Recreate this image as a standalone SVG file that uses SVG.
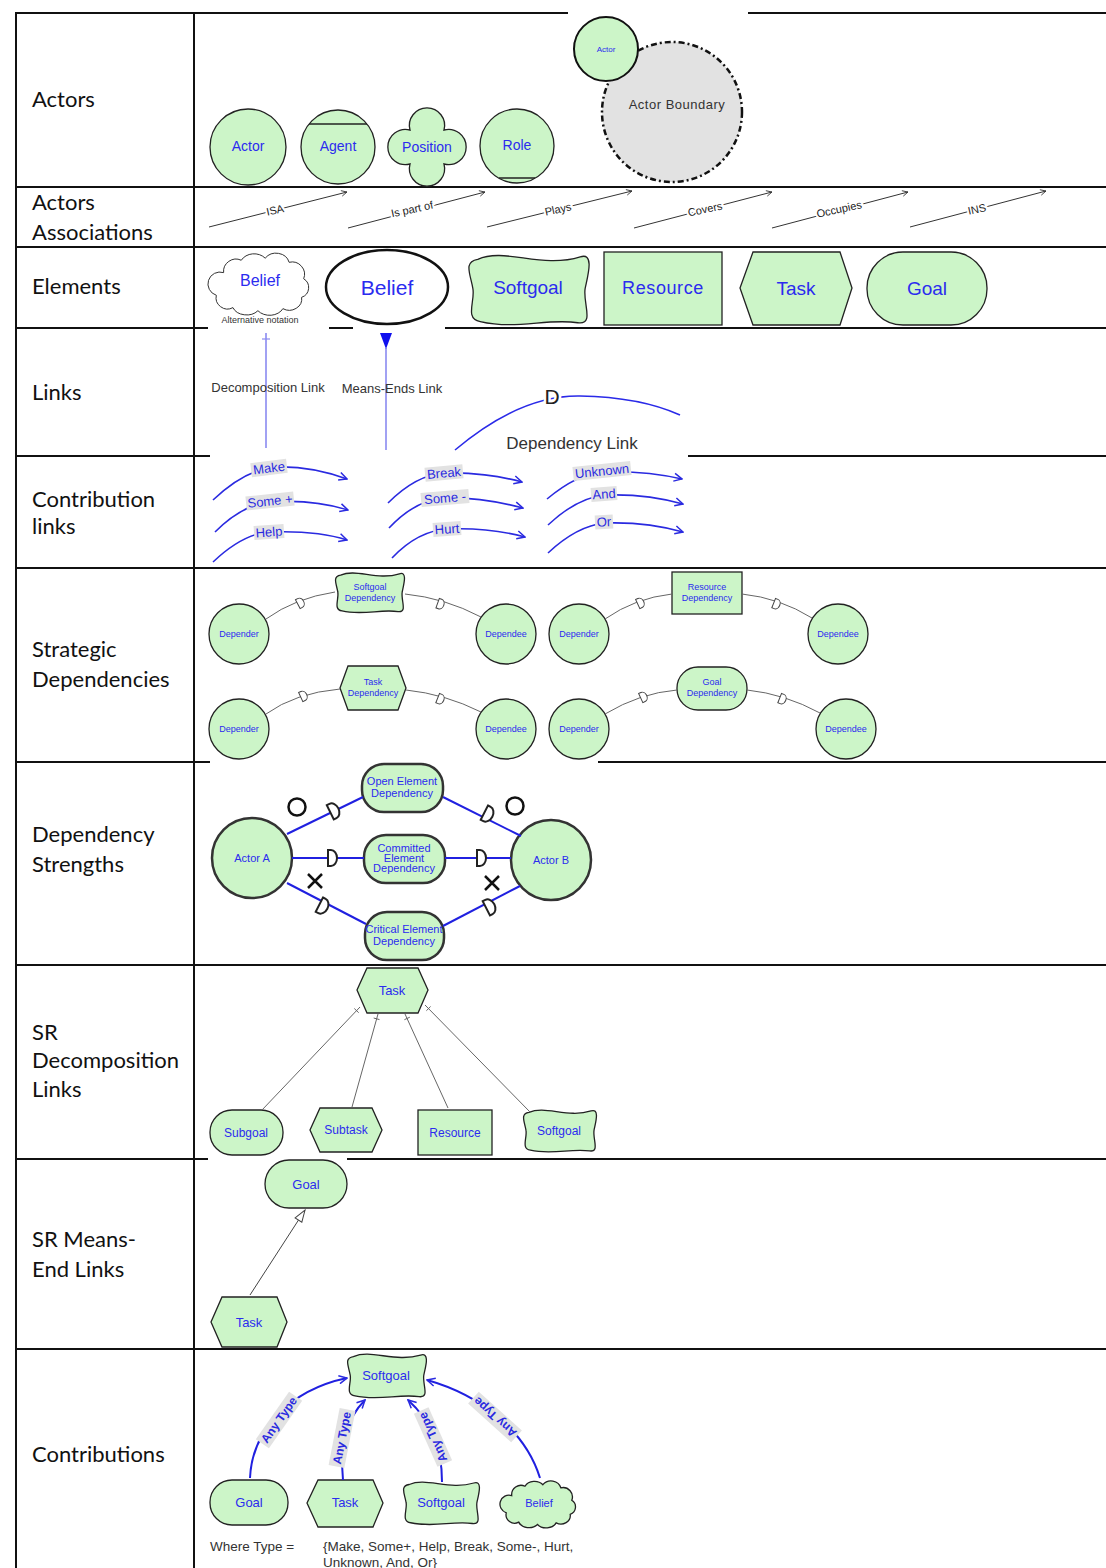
<svg xmlns="http://www.w3.org/2000/svg" xmlns:xlink="http://www.w3.org/1999/xlink" width="1106" height="1568" viewBox="0 0 1106 1568">
<style>
.grid{stroke:#111;stroke-width:2;fill:none}
.lbl{font-family:Lato,"Open Sans","Liberation Sans",sans-serif;font-size:22px;fill:#111}
.t{font-family:"Liberation Sans",Arial,sans-serif;fill:#2b2bef;text-anchor:middle;dominant-baseline:central}
.g{fill:#ccf5c8;stroke:#222;stroke-width:1.3}
.gt{fill:#ccf5c8;stroke:#333;stroke-width:2.5}
.dk{font-family:"Liberation Sans",Arial,sans-serif;fill:#333}
.assoc{stroke:#333;stroke-width:1;fill:none}
.at{font-family:"Liberation Sans",Arial,sans-serif;font-size:11px;fill:#222;text-anchor:middle;dominant-baseline:central;stroke:#fff;stroke-width:4;paint-order:stroke}
.bl{stroke:#2a2ae0;stroke-width:1.6;fill:none}
.bl2{stroke:#2020e0;stroke-width:2;fill:none}
.cl{font-family:"Liberation Sans",Arial,sans-serif;font-size:13px;fill:#2a2ae0;text-anchor:middle;dominant-baseline:central}
.clb{fill:#e2e2e2}
.at2{font-family:"Liberation Sans",Arial,sans-serif;font-size:12px;font-weight:bold;fill:#2a2ae0;text-anchor:middle;dominant-baseline:central}
.gl{stroke:#666;stroke-width:1;fill:none}
.dm{fill:#fff;stroke:#444;stroke-width:1}
.dm2{fill:#fff;stroke:#222;stroke-width:2}
</style>
<defs>
<path id="sgU" vector-effect="non-scaling-stroke" d="M8,6 C30,-4 60,14 92,4 C104,0 98,20 96,30 C94,42 104,60 90,58 C65,54 40,64 10,57 C-3,55 6,40 4,30 C2,18 -4,8 8,6 Z"/>
<path id="cloudU" vector-effect="non-scaling-stroke" d="M15,20 A12,12 0 0 1 32,8 A14,12 0 0 1 55,6 A13,12 0 0 1 78,10 A12,12 0 0 1 92,26 A10,10 0 0 1 90,44 A12,11 0 0 1 72,55 A14,11 0 0 1 48,57 A14,11 0 0 1 24,54 A11,11 0 0 1 8,42 A10,10 0 0 1 15,20 Z"/>
<path id="dS" d="M-2.5,-5 L0,-5 A4,5 0 0 1 0,5 L-2.5,5 Z"/>
<path id="dL" d="M-3,-8 L0,-8 A6,8 0 0 1 0,8 L-3,8 Z"/>
<marker id="arG" viewBox="0 0 10 10" refX="9" refY="5" markerWidth="7" markerHeight="7" orient="auto" markerUnits="userSpaceOnUse"><path d="M1,1 L9,5 L1,9" fill="none" stroke="#333" stroke-width="1.2"/></marker>
<marker id="arB" viewBox="0 0 10 10" refX="9" refY="5" markerWidth="10" markerHeight="10" orient="auto" markerUnits="userSpaceOnUse"><path d="M1,1 L9,5 L1,9" fill="none" stroke="#2a2ae0" stroke-width="1.5"/></marker>
<marker id="triW" viewBox="0 0 14 10" refX="13" refY="5" markerWidth="14" markerHeight="10" orient="auto" markerUnits="userSpaceOnUse"><path d="M1,1 L13,5 L1,9 Z" fill="#fff" stroke="#444" stroke-width="1"/></marker>
<marker id="triB" viewBox="0 0 16 12" refX="15" refY="6" markerWidth="16" markerHeight="12" orient="auto" markerUnits="userSpaceOnUse"><path d="M0,0 L16,6 L0,12 Z" fill="#1010ee"/></marker>
</defs>
<rect width="1106" height="1568" fill="#fff"/>

<g id="table">
<line class="grid" x1="16" y1="12" x2="16" y2="1568"/>
<line class="grid" x1="194" y1="12" x2="194" y2="1568"/>
<line class="grid" x1="15" y1="13" x2="568" y2="13"/>
<line class="grid" x1="748" y1="13" x2="1106" y2="13"/>
<line class="grid" x1="15" y1="187" x2="1106" y2="187"/>
<line class="grid" x1="15" y1="247" x2="1106" y2="247"/>
<line class="grid" x1="15" y1="328" x2="208" y2="328"/>
<line class="grid" x1="329" y1="328" x2="353" y2="328"/>
<line class="grid" x1="445" y1="328" x2="1106" y2="328"/>
<line class="grid" x1="15" y1="456" x2="210" y2="456"/>
<line class="grid" x1="688" y1="456" x2="1106" y2="456"/>
<line class="grid" x1="15" y1="568" x2="1106" y2="568"/>
<line class="grid" x1="15" y1="762" x2="210" y2="762"/>
<line class="grid" x1="598" y1="762" x2="1106" y2="762"/>
<line class="grid" x1="15" y1="965" x2="1106" y2="965"/>
<line class="grid" x1="15" y1="1159" x2="208" y2="1159"/>
<line class="grid" x1="347" y1="1159" x2="1106" y2="1159"/>
<line class="grid" x1="15" y1="1349" x2="1106" y2="1349"/>
</g>

<g id="row-labels">
<text class="lbl" x="32" y="107">Actors</text>
<text class="lbl" x="32" y="210">Actors</text>
<text class="lbl" x="32" y="240">Associations</text>
<text class="lbl" x="32" y="294">Elements</text>
<text class="lbl" x="32" y="400">Links</text>
<text class="lbl" x="32" y="507">Contribution</text>
<text class="lbl" x="32" y="534">links</text>
<text class="lbl" x="32" y="657">Strategic</text>
<text class="lbl" x="32" y="687">Dependencies</text>
<text class="lbl" x="32" y="842">Dependency</text>
<text class="lbl" x="32" y="872">Strengths</text>
<text class="lbl" x="32" y="1040">SR</text>
<text class="lbl" x="32" y="1068">Decomposition</text>
<text class="lbl" x="32" y="1097">Links</text>
<text class="lbl" x="32" y="1247">SR Means-</text>
<text class="lbl" x="32" y="1277">End Links</text>
<text class="lbl" x="32" y="1462">Contributions</text>
</g>

<!-- Actors row -->
<g id="n-actor"><circle class="g" cx="248" cy="147" r="38"/><text class="t" x="248" y="146" font-size="14">Actor</text></g>
<g id="n-agent"><circle class="g" cx="338" cy="147" r="37"/><line x1="309" y1="124" x2="367" y2="124" stroke="#222" stroke-width="1.3"/><text class="t" x="338" y="146" font-size="14">Agent</text></g>
<g id="n-position"><path class="g" d="M410,130 A17.6,17.6 0 1 1 444,130 A17.6,17.6 0 1 1 444,164 A17.6,17.6 0 1 1 410,164 A17.6,17.6 0 1 1 410,130 Z"/><text class="t" x="427" y="147" font-size="14">Position</text></g>
<g id="n-role"><circle class="g" cx="517" cy="146" r="37"/><path d="M499,178 L535,178" stroke="#222" stroke-width="1.3"/><text class="t" x="517" y="145" font-size="14">Role</text></g>
<g id="n-boundary"><circle cx="672" cy="112" r="70" fill="#e2e2e2" stroke="#111" stroke-width="2.5" stroke-dasharray="6 3 2 3"/><text class="dk" x="677" y="109" font-size="13" text-anchor="middle" letter-spacing="0.5" fill="#444">Actor Boundary</text></g>
<g id="n-actor-small"><circle cx="606" cy="49" r="32" fill="#ccf5c8" stroke="#111" stroke-width="2"/><text class="t" x="606" y="49" font-size="8">Actor</text></g>

<!-- Elements row -->
<g id="n-belief-cloud"><use href="#cloudU" transform="translate(208,252) scale(1.04,1.03)" fill="#fff" stroke="#333" stroke-width="1"/><text class="t" x="260" y="280" font-size="16">Belief</text><text class="dk" x="260" y="323" font-size="9" text-anchor="middle" fill="#222">Alternative notation</text></g>
<g id="n-belief"><ellipse cx="387" cy="287" rx="61" ry="37" fill="#fff" stroke="#111" stroke-width="2.5"/><text class="t" x="387" y="287" font-size="21">Belief</text></g>
<g id="n-softgoal"><use href="#sgU" transform="translate(468,252) scale(1.22,1.22)" class="g"/><text class="t" x="528" y="287" font-size="19">Softgoal</text></g>
<g id="n-resource"><rect class="g" x="604" y="252" width="118" height="73"/><text class="t" x="663" y="288" font-size="18" letter-spacing="0.6">Resource</text></g>
<g id="n-task"><polygon class="g" points="753,252 840,252 852,288 840,325 753,325 740,288"/><text class="t" x="796" y="288" font-size="19">Task</text></g>
<g id="n-goal"><rect class="g" x="867" y="252" width="120" height="73" rx="36" ry="36"/><text class="t" x="927" y="288" font-size="19">Goal</text></g>

<!-- Strategic dependencies -->
<g id="sd-depender1"><circle class="g" cx="239" cy="634" r="30"/><text class="t" x="239" y="634" font-size="9">Depender</text></g>
<g id="sd-softgoal"><use href="#sgU" transform="translate(335,571) scale(0.7,0.7)" class="g"/><text class="t" x="370" y="587" font-size="9">Softgoal</text><text class="t" x="370" y="598" font-size="9">Dependency</text></g>
<g id="sd-dependee1"><circle class="g" cx="506" cy="634" r="30"/><text class="t" x="506" y="634" font-size="9">Dependee</text></g>
<g id="sd-depender2"><circle class="g" cx="579" cy="634" r="30"/><text class="t" x="579" y="634" font-size="9">Depender</text></g>
<g id="sd-resource"><rect class="g" x="672" y="572" width="70" height="42"/><text class="t" x="707" y="587" font-size="9">Resource</text><text class="t" x="707" y="598" font-size="9">Dependency</text></g>
<g id="sd-dependee2"><circle class="g" cx="838" cy="634" r="30"/><text class="t" x="838" y="634" font-size="9">Dependee</text></g>
<g id="sd-depender3"><circle class="g" cx="239" cy="729" r="30"/><text class="t" x="239" y="729" font-size="9">Depender</text></g>
<g id="sd-task"><polygon class="g" points="348,666 398,666 406,688 398,710 348,710 340,688"/><text class="t" x="373" y="682" font-size="9">Task</text><text class="t" x="373" y="693" font-size="9">Dependency</text></g>
<g id="sd-dependee3"><circle class="g" cx="506" cy="729" r="30"/><text class="t" x="506" y="729" font-size="9">Dependee</text></g>
<g id="sd-depender4"><circle class="g" cx="579" cy="729" r="30"/><text class="t" x="579" y="729" font-size="9">Depender</text></g>
<g id="sd-goal"><rect class="g" x="677" y="667" width="70" height="43" rx="21" ry="21"/><text class="t" x="712" y="682" font-size="9">Goal</text><text class="t" x="712" y="693" font-size="9">Dependency</text></g>
<g id="sd-dependee4"><circle class="g" cx="846" cy="729" r="30"/><text class="t" x="846" y="729" font-size="9">Dependee</text></g>

<!-- Dependency strengths -->
<g id="ds-actorA"><circle cx="252" cy="858" r="40" class="gt"/><text class="t" x="252" y="858" font-size="11">Actor A</text></g>
<g id="ds-actorB"><circle cx="551" cy="860" r="40" class="gt"/><text class="t" x="551" y="860" font-size="11">Actor B</text></g>
<g id="ds-open"><rect class="gt" x="362" y="764" width="81" height="48" rx="22" ry="22"/><text class="t" x="402" y="781" font-size="11">Open Element</text><text class="t" x="402" y="793" font-size="11">Dependency</text></g>
<g id="ds-committed"><rect class="gt" x="364" y="835" width="81" height="48" rx="22" ry="22"/><text class="t" x="404" y="848" font-size="11">Committed</text><text class="t" x="404" y="858" font-size="11">Element</text><text class="t" x="404" y="868" font-size="11">Dependency</text></g>
<g id="ds-critical"><rect class="gt" x="365" y="912" width="79" height="48" rx="22" ry="22"/><text class="t" x="404" y="929" font-size="11">Critical Element</text><text class="t" x="404" y="941" font-size="11">Dependency</text></g>

<!-- SR decomposition -->
<g id="dec-task"><polygon class="g" points="367,968 418,968 428,990 418,1013 367,1013 357,990"/><text class="t" x="392" y="990" font-size="13">Task</text></g>
<g id="dec-subgoal"><rect class="g" x="210" y="1110" width="73" height="45" rx="22" ry="22"/><text class="t" x="246" y="1133" font-size="12">Subgoal</text></g>
<g id="dec-subtask"><polygon class="g" points="320,1108 372,1108 382,1130 372,1152 320,1152 310,1130"/><text class="t" x="346" y="1130" font-size="12">Subtask</text></g>
<g id="dec-resource"><rect class="g" x="418" y="1110" width="74" height="45"/><text class="t" x="455" y="1133" font-size="12">Resource</text></g>
<g id="dec-softgoal"><use href="#sgU" transform="translate(523,1108) scale(0.74,0.74)" class="g"/><text class="t" x="559" y="1131" font-size="12">Softgoal</text></g>

<!-- SR means-end -->
<g id="me-goal"><rect class="g" x="265" y="1160" width="82" height="48" rx="24" ry="24"/><text class="t" x="306" y="1184" font-size="13">Goal</text></g>
<g id="me-task"><polygon class="g" points="222,1297 277,1297 287,1322 277,1347 222,1347 211,1322"/><text class="t" x="249" y="1322" font-size="13">Task</text></g>

<!-- Contributions -->
<g id="c-softgoal-top"><use href="#sgU" transform="translate(347,1352) scale(0.8,0.77)" class="g"/><text class="t" x="386" y="1375" font-size="13">Softgoal</text></g>
<g id="c-goal"><rect class="g" x="210" y="1480" width="78" height="45" rx="22" ry="22"/><text class="t" x="249" y="1502" font-size="13">Goal</text></g>
<g id="c-task"><polygon class="g" points="318,1480 373,1480 383,1503 373,1527 318,1527 307,1503"/><text class="t" x="345" y="1502" font-size="13">Task</text></g>
<g id="c-softgoal"><use href="#sgU" transform="translate(403,1480) scale(0.77,0.75)" class="g"/><text class="t" x="441" y="1502" font-size="13">Softgoal</text></g>
<g id="c-belief"><use href="#cloudU" transform="translate(500,1480) scale(0.78,0.78)" class="g"/><text class="t" x="539" y="1503" font-size="11">Belief</text></g>
<g id="c-legend"><text class="dk" x="210" y="1551" font-size="13.5">Where Type =</text><text class="dk" x="323" y="1551" font-size="13.5">{Make, Some+, Help, Break, Some-, Hurt,</text><text class="dk" x="323" y="1567" font-size="13.5">Unknown, And, Or}</text></g>

<g id="connectors">
<!-- actor associations -->
<line class="assoc" x1="209" y1="227" x2="347" y2="192" marker-end="url(#arG)"/>
<line class="assoc" x1="348" y1="228" x2="485" y2="192" marker-end="url(#arG)"/>
<line class="assoc" x1="487" y1="227" x2="632" y2="191" marker-end="url(#arG)"/>
<line class="assoc" x1="634" y1="228" x2="772" y2="192" marker-end="url(#arG)"/>
<line class="assoc" x1="772" y1="228" x2="908" y2="192" marker-end="url(#arG)"/>
<line class="assoc" x1="910" y1="227" x2="1046" y2="191" marker-end="url(#arG)"/>
<text class="at" transform="translate(275,210) rotate(-12)">ISA</text>
<text class="at" transform="translate(412,209) rotate(-12)">Is part of</text>
<text class="at" transform="translate(558,209) rotate(-12)">Plays</text>
<text class="at" transform="translate(705,209) rotate(-12)">Covers</text>
<text class="at" transform="translate(839,209) rotate(-12)">Occupies</text>
<text class="at" transform="translate(977,209) rotate(-12)">INS</text>

<!-- links row -->
<line x1="266" y1="333" x2="266" y2="448" stroke="#8a8af0" stroke-width="1.6"/>
<line x1="262" y1="339" x2="270" y2="339" stroke="#8a8af0" stroke-width="1.2"/>
<line x1="386" y1="348" x2="386" y2="450" stroke="#8a8af0" stroke-width="1.6" marker-start="url(#triB)"/>
<text class="dk" x="268" y="392" font-size="13" text-anchor="middle" fill="#333">Decomposition Link</text>
<text class="dk" x="392" y="393" font-size="13" text-anchor="middle" fill="#333">Means-Ends Link</text>
<path d="M455,450 Q520,395 580,396 Q640,397 680,415" stroke="#2a2ae8" stroke-width="1.6" fill="none"/>
<text x="552" y="404" font-family="Liberation Sans,Arial,sans-serif" font-size="21" text-anchor="middle" fill="#222" stroke="#fff" stroke-width="5" paint-order="stroke">D</text>
<text class="dk" x="572" y="449" font-size="17" text-anchor="middle" fill="#333">Dependency Link</text>

<!-- contribution links -->
<path class="bl" d="M213,500 C232,482 252,469 275,467 C300,466 325,471 347,479" marker-end="url(#arB)"/>
<path class="bl" d="M215,532 C233,514 252,503 272,502 C300,500 325,503 348,510" marker-end="url(#arB)"/>
<path class="bl" d="M213,562 C232,544 250,533 270,532 C298,531 325,533 347,540" marker-end="url(#arB)"/>
<path class="bl" d="M388,503 C405,486 425,474 445,473 C470,472 500,476 522,482" marker-end="url(#arB)"/>
<path class="bl" d="M389,528 C405,511 425,499 445,498 C472,497 500,502 523,508" marker-end="url(#arB)"/>
<path class="bl" d="M392,558 C408,541 428,530 448,529 C475,528 503,531 525,537" marker-end="url(#arB)"/>
<path class="bl" d="M547,499 C565,484 585,473 603,472 C630,471 660,474 682,479" marker-end="url(#arB)"/>
<path class="bl" d="M548,525 C565,509 585,497 605,495 C635,494 662,498 683,504" marker-end="url(#arB)"/>
<path class="bl" d="M548,553 C565,537 585,525 605,523 C635,522 662,526 683,532" marker-end="url(#arB)"/>
<g transform="translate(269,468) rotate(-7)"><rect class="clb" x="-18" y="-7" width="36" height="14"/><text class="cl">Make</text></g>
<g transform="translate(270,501) rotate(-6)"><rect class="clb" x="-24" y="-7" width="48" height="14"/><text class="cl">Some +</text></g>
<g transform="translate(269,532) rotate(-4)"><rect class="clb" x="-15" y="-7" width="30" height="14"/><text class="cl">Help</text></g>
<g transform="translate(444,473) rotate(-5)"><rect class="clb" x="-19" y="-7" width="38" height="14"/><text class="cl">Break</text></g>
<g transform="translate(445,498) rotate(-5)"><rect class="clb" x="-24" y="-7" width="48" height="14"/><text class="cl">Some -</text></g>
<g transform="translate(447,529) rotate(-4)"><rect class="clb" x="-14" y="-7" width="28" height="14"/><text class="cl">Hurt</text></g>
<g transform="translate(602,471) rotate(-6)"><rect class="clb" x="-29" y="-7" width="58" height="14"/><text class="cl">Unknown</text></g>
<g transform="translate(604,494) rotate(-4)"><rect class="clb" x="-13" y="-7" width="26" height="14"/><text class="cl">And</text></g>
<g transform="translate(604,522) rotate(-3)"><rect class="clb" x="-9" y="-7" width="18" height="14"/><text class="cl">Or</text></g>

<!-- strategic dependency links -->
<path class="gl" d="M266,619 Q295,598 335,592"/>
<path class="gl" d="M405,594 Q445,598 481,617"/>
<path class="gl" d="M605,619 Q635,598 672,594"/>
<path class="gl" d="M742,594 Q780,598 812,618"/>
<path class="gl" d="M266,714 Q295,693 340,689"/>
<path class="gl" d="M406,690 Q445,694 481,712"/>
<path class="gl" d="M605,714 Q640,693 677,690"/>
<path class="gl" d="M747,690 Q785,694 820,713"/>
<use href="#dS" class="dm" transform="translate(300,603) rotate(-28)"/>
<use href="#dS" class="dm" transform="translate(440,604) rotate(20)"/>
<use href="#dS" class="dm" transform="translate(640,603) rotate(-25)"/>
<use href="#dS" class="dm" transform="translate(776,604) rotate(22)"/>
<use href="#dS" class="dm" transform="translate(303,696) rotate(-25)"/>
<use href="#dS" class="dm" transform="translate(440,699) rotate(22)"/>
<use href="#dS" class="dm" transform="translate(643,697) rotate(-25)"/>
<use href="#dS" class="dm" transform="translate(782,699) rotate(22)"/>

<!-- dependency strengths -->
<line class="bl2" x1="287" y1="834" x2="363" y2="797"/>
<line class="bl2" x1="443" y1="797" x2="521" y2="836"/>
<line class="bl2" x1="292" y1="858" x2="364" y2="858"/>
<line class="bl2" x1="445" y1="858" x2="511" y2="858"/>
<line class="bl2" x1="287" y1="883" x2="366" y2="924"/>
<line class="bl2" x1="443" y1="926" x2="520" y2="886"/>
<use href="#dL" class="dm2" transform="translate(333,811) rotate(-26)"/>
<use href="#dL" class="dm2" transform="translate(487,814) rotate(27)"/>
<use href="#dL" class="dm2" transform="translate(331,858)"/>
<use href="#dL" class="dm2" transform="translate(480,858)"/>
<use href="#dL" class="dm2" transform="translate(322,906) rotate(27)"/>
<use href="#dL" class="dm2" transform="translate(489,907) rotate(-27)"/>
<circle cx="297" cy="807" r="8.5" fill="none" stroke="#111" stroke-width="2.5"/>
<circle cx="515" cy="806" r="8.5" fill="none" stroke="#111" stroke-width="2.5"/>
<path d="M308,874 L322,888 M322,874 L308,888" stroke="#111" stroke-width="2.5"/>
<path d="M485,876 L499,890 M499,876 L485,890" stroke="#111" stroke-width="2.5"/>

<!-- SR decomposition links -->
<line class="gl" x1="262" y1="1110" x2="360" y2="1007"/>
<line class="gl" x1="352" y1="1107" x2="378" y2="1014"/>
<line class="gl" x1="448" y1="1108" x2="405" y2="1014"/>
<line class="gl" x1="530" y1="1112" x2="425" y2="1005"/>
<path class="gl" d="M354.3,1008.5 L358.7,1012.7 M373.7,1018 L379.5,1019.6 M404.4,1019.7 L409.8,1017.2 M426.4,1010.7 L430.6,1006.5"/>

<!-- SR means-end link -->
<line x1="250" y1="1295" x2="305" y2="1210" stroke="#444" stroke-width="1" marker-end="url(#triW)"/>

<!-- contributions -->
<path class="bl2" d="M250,1478 C252,1430 290,1390 347,1378" marker-end="url(#arB)"/>
<path class="bl2" d="M343,1480 C340,1450 345,1420 365,1400" marker-end="url(#arB)"/>
<path class="bl2" d="M442,1482 C442,1445 430,1420 408,1400" marker-end="url(#arB)"/>
<path class="bl2" d="M540,1478 C525,1430 480,1395 427,1380" marker-end="url(#arB)"/>
<g transform="translate(279,1420) rotate(-55)"><rect class="clb" x="-29" y="-8" width="58" height="16"/><text class="at2">Any Type</text></g>
<g transform="translate(342,1438) rotate(-79)"><rect class="clb" x="-29" y="-8" width="58" height="16"/><text class="at2">Any Type</text></g>
<g transform="translate(433,1437) rotate(-114)"><rect class="clb" x="-29" y="-8" width="58" height="16"/><text class="at2">Any Type</text></g>
<g transform="translate(495,1417) rotate(-138)"><rect class="clb" x="-29" y="-8" width="58" height="16"/><text class="at2">Any Type</text></g>
</g>
</svg>
